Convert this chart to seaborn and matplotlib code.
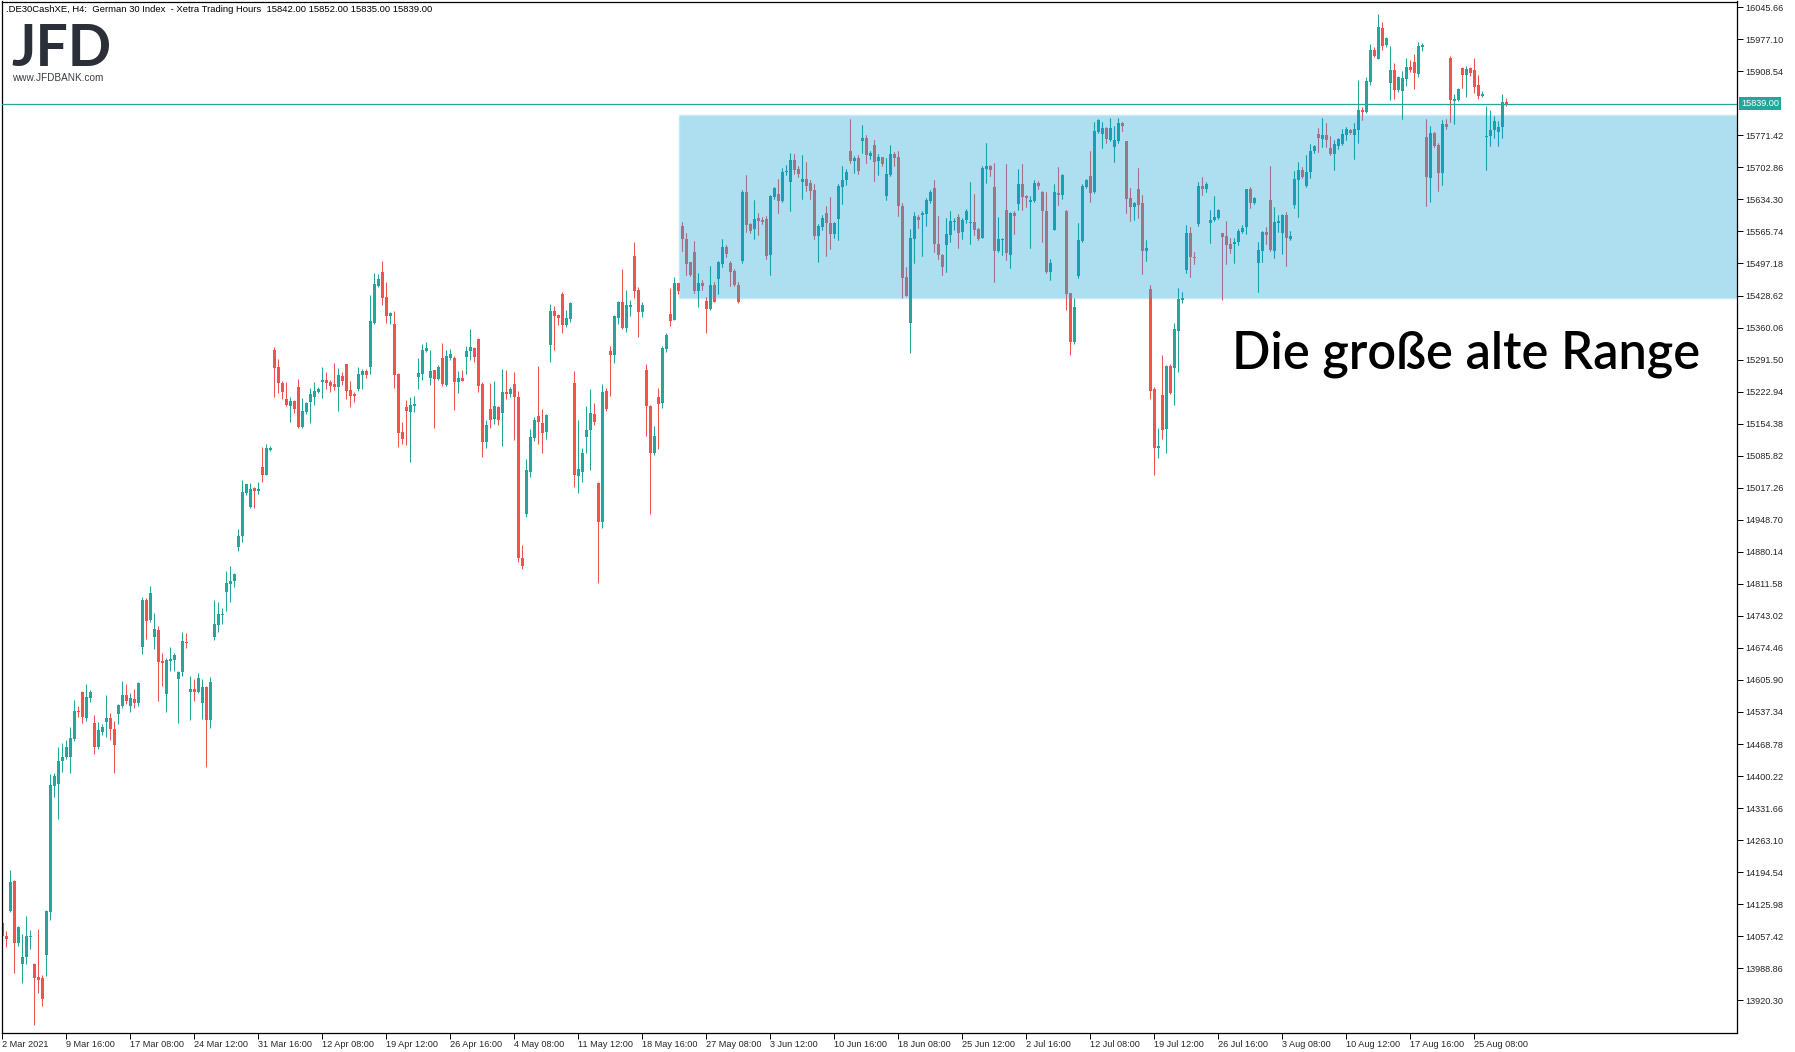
import numpy as np
import pandas as pd
import matplotlib
matplotlib.use("Agg")
import matplotlib.pyplot as plt
import matplotlib.transforms as mtransforms
from matplotlib.patches import Rectangle
import seaborn as sns

# DE30 H4 candles (Xetra hours), 2 Mar 2021 - 27 Aug 2021
opens = [
    14085, 14058, 14112, 14176, 14044, 13997, 14012, 14056, 13998, 13970,
    13968, 14018, 14110, 14380, 14384, 14432, 14442, 14442, 14480, 14540,
    14580, 14525, 14568, 14514, 14463, 14495, 14516, 14524, 14501, 14534,
    14550, 14574, 14551, 14565, 14557, 14677, 14777, 14735, 14698, 14713,
    14647, 14576, 14647, 14649, 14609, 14624, 14687, 14581, 14587, 14581,
    14557, 14591, 14521, 14698, 14724, 14745, 14794, 14811, 14818, 14890,
    14914, 15006, 14976, 15017, 15011, 15062, 15045, 15098, 15312, 15276,
    15241, 15207, 15192, 15203, 15233, 15147, 15179, 15201, 15211, 15222,
    15244, 15248, 15244, 15239, 15233, 15256, 15282, 15226, 15218, 15229,
    15259, 15267, 15276, 15370, 15449, 15479, 15425, 15385, 15368, 15261,
    15137, 15190, 15179, 15193, 15254, 15261, 15310, 15252, 15269, 15250,
    15295, 15237, 15295, 15295, 15244, 15252, 15297, 15310, 15316, 15336,
    15239, 15115, 15186, 15164, 15190, 15177, 15222, 15218, 15239, 15211,
    14867, 14961, 15051, 15124, 15171, 15156, 15137, 15323, 15396, 15387,
    15432, 15365, 15378, 15241, 15042, 15052, 15126, 15141, 15175, 15027,
    14944, 15224, 15310, 15301, 15380, 15415, 15359, 15405, 15513, 15440,
    15393, 15269, 15192, 15092, 15211, 15199, 15314, 15389, 15376, 15455,
    15577, 15550, 15500, 15522, 15438, 15455, 15417, 15400, 15451, 15464,
    15496, 15532, 15498, 15481, 15451, 15502, 15650, 15582, 15571, 15594,
    15590, 15592, 15515, 15639, 15646, 15631, 15692, 15671, 15719, 15699,
    15671, 15678, 15669, 15654, 15556, 15575, 15605, 15584, 15560, 15592,
    15661, 15676, 15738, 15716, 15723, 15759, 15766, 15728, 15751, 15716,
    15725, 15642, 15686, 15731, 15725, 15620, 15468, 15370, 15550, 15597,
    15600, 15603, 15631, 15659, 15539, 15515, 15537, 15558, 15585, 15597,
    15565, 15590, 15584, 15586, 15571, 15552, 15699, 15706, 15661, 15524,
    15547, 15612, 15515, 15605, 15624, 15667, 15642, 15629, 15631, 15669,
    15650, 15610, 15479, 15569, 15648, 15644, 15610, 15434, 15329, 15470,
    15545, 15661, 15684, 15650, 15779, 15774, 15787, 15761, 15746, 15759,
    15798, 15759, 15637, 15618, 15656, 15627, 15524, 15442, 15228, 15102,
    15216, 15143, 15278, 15274, 15353, 15419, 15483, 15562, 15511, 15582,
    15663, 15656, 15584, 15590, 15594, 15562, 15556, 15539, 15539, 15543,
    15565, 15575, 15656, 15627, 15498, 15524, 15565, 15633, 15524, 15584,
    15562, 15601, 15550, 15622, 15676, 15697, 15663, 15693, 15738, 15774,
    15764, 15772, 15744, 15731, 15749, 15753, 15772, 15783, 15772, 15783,
    15826, 15821, 15886, 15954, 15935, 16001, 15965, 15883, 15911, 15868,
    15866, 15892, 15918, 15928, 15903, 15960, 15768, 15680, 15776, 15751,
    15691, 15796, 15937, 15844, 15847, 15916, 15901, 15916, 15911, 15879,
    15856, 15768, 15770, 15783, 15779, 15789, 15842,
]
highs = [
    14089, 14069, 14199, 14178, 14079, 14062, 14101, 14071, 14000, 14073,
    13975, 14114, 14405, 14407, 14462, 14471, 14477, 14505, 14563, 14550,
    14582, 14597, 14584, 14531, 14516, 14512, 14574, 14535, 14519, 14554,
    14604, 14597, 14578, 14587, 14601, 14784, 14782, 14807, 14749, 14721,
    14664, 14653, 14676, 14664, 14626, 14709, 14706, 14614, 14608, 14621,
    14608, 14593, 14612, 14777, 14773, 14760, 14839, 14850, 14834, 14929,
    15034, 15026, 15027, 15018, 15030, 15104, 15111, 15107, 15318, 15293,
    15246, 15244, 15211, 15205, 15250, 15209, 15201, 15231, 15244, 15233,
    15276, 15265, 15248, 15284, 15274, 15265, 15283, 15246, 15222, 15276,
    15271, 15271, 15430, 15477, 15475, 15502, 15457, 15393, 15395, 15262,
    15158, 15205, 15211, 15214, 15295, 15325, 15329, 15312, 15270, 15280,
    15327, 15312, 15314, 15299, 15267, 15270, 15321, 15357, 15318, 15337,
    15244, 15162, 15241, 15246, 15192, 15271, 15270, 15233, 15265, 15224,
    14895, 15079, 15143, 15169, 15278, 15186, 15174, 15410, 15406, 15389,
    15436, 15398, 15415, 15267, 15162, 15102, 15192, 15229, 15199, 15030,
    15239, 15231, 15321, 15386, 15417, 15485, 15440, 15419, 15543, 15447,
    15415, 15282, 15194, 15149, 15231, 15321, 15348, 15445, 15468, 15456,
    15586, 15562, 15501, 15545, 15477, 15462, 15425, 15492, 15457, 15502,
    15550, 15537, 15502, 15485, 15457, 15654, 15686, 15584, 15633, 15605,
    15597, 15599, 15643, 15660, 15678, 15701, 15708, 15734, 15731, 15706,
    15729, 15714, 15676, 15667, 15582, 15601, 15620, 15639, 15586, 15667,
    15706, 15699, 15806, 15727, 15729, 15793, 15772, 15738, 15761, 15731,
    15726, 15723, 15751, 15736, 15738, 15627, 15490, 15571, 15607, 15601,
    15610, 15637, 15654, 15676, 15599, 15517, 15594, 15610, 15594, 15603,
    15594, 15614, 15671, 15646, 15573, 15706, 15755, 15707, 15712, 15597,
    15552, 15710, 15607, 15610, 15699, 15710, 15644, 15642, 15676, 15674,
    15652, 15650, 15507, 15667, 15704, 15689, 15611, 15435, 15423, 15584,
    15667, 15678, 15738, 15800, 15806, 15800, 15789, 15808, 15791, 15808,
    15800, 15760, 15659, 15629, 15701, 15644, 15547, 15451, 15233, 15145,
    15301, 15280, 15282, 15370, 15445, 15436, 15580, 15575, 15522, 15672,
    15682, 15672, 15612, 15642, 15613, 15563, 15588, 15552, 15552, 15571,
    15580, 15657, 15661, 15639, 15543, 15567, 15575, 15706, 15618, 15601,
    15602, 15607, 15567, 15695, 15714, 15704, 15729, 15753, 15751, 15787,
    15808, 15798, 15770, 15761, 15766, 15785, 15789, 15785, 15798, 15890,
    15832, 15896, 15967, 15960, 16031, 16014, 15981, 15963, 15926, 15898,
    15909, 15937, 15933, 15945, 15971, 15969, 15806, 15791, 15779, 15755,
    15804, 15806, 15941, 15860, 15873, 15918, 15920, 15918, 15937, 15901,
    15866, 15834, 15826, 15813, 15802, 15860, 15852,
]
lows = [
    14055, 14035, 14110, 13979, 14037, 13958, 13999, 14031, 13868, 13937,
    13909, 13973, 14093, 14356, 14309, 14410, 14437, 14407, 14476, 14527,
    14514, 14519, 14559, 14448, 14459, 14489, 14484, 14478, 14407, 14512,
    14546, 14555, 14538, 14546, 14551, 14662, 14694, 14731, 14673, 14561,
    14594, 14538, 14626, 14626, 14514, 14615, 14675, 14521, 14561, 14579,
    14523, 14420, 14504, 14692, 14709, 14726, 14753, 14773, 14805, 14882,
    14901, 15002, 14974, 14974, 15004, 15030, 15044, 15096, 15211, 15221,
    15207, 15192, 15158, 15177, 15145, 15145, 15175, 15156, 15194, 15220,
    15209, 15229, 15222, 15226, 15181, 15237, 15207, 15190, 15201, 15224,
    15229, 15252, 15261, 15368, 15447, 15408, 15370, 15368, 15231, 15104,
    15111, 15109, 15072, 15179, 15229, 15248, 15308, 15237, 15145, 15248,
    15235, 15236, 15291, 15184, 15220, 15245, 15261, 15291, 15286, 15222,
    15083, 15102, 15145, 15154, 15152, 15107, 15207, 15211, 15119, 14858,
    14843, 14955, 15040, 15117, 15111, 15092, 15121, 15286, 15312, 15365,
    15348, 15361, 15372, 15019, 15006, 15030, 15091, 15055, 15152, 14813,
    14931, 15181, 15214, 15284, 15368, 15357, 15350, 15385, 15423, 15340,
    15383, 15128, 14961, 15087, 15100, 15188, 15308, 15363, 15376, 15432,
    15524, 15473, 15470, 15434, 15404, 15440, 15348, 15398, 15414, 15432,
    15490, 15511, 15449, 15449, 15413, 15498, 15564, 15562, 15550, 15558,
    15582, 15507, 15473, 15635, 15605, 15629, 15686, 15610, 15689, 15682,
    15635, 15652, 15635, 15550, 15500, 15569, 15513, 15528, 15552, 15547,
    15624, 15665, 15712, 15691, 15689, 15734, 15712, 15721, 15674, 15686,
    15706, 15633, 15685, 15706, 15599, 15423, 15427, 15306, 15498, 15573,
    15513, 15577, 15627, 15522, 15507, 15473, 15479, 15543, 15569, 15530,
    15550, 15584, 15539, 15558, 15547, 15551, 15669, 15684, 15457, 15522,
    15515, 15505, 15488, 15560, 15612, 15612, 15618, 15530, 15629, 15656,
    15543, 15477, 15462, 15568, 15622, 15635, 15398, 15301, 15325, 15466,
    15543, 15659, 15629, 15649, 15776, 15744, 15755, 15759, 15714, 15755,
    15781, 15605, 15588, 15590, 15594, 15475, 15502, 15207, 15045, 15081,
    15121, 15092, 15218, 15194, 15265, 15413, 15477, 15468, 15496, 15577,
    15644, 15650, 15541, 15588, 15592, 15419, 15496, 15520, 15498, 15537,
    15563, 15560, 15616, 15624, 15436, 15500, 15539, 15524, 15509, 15565,
    15517, 15492, 15547, 15616, 15597, 15680, 15661, 15680, 15734, 15736,
    15746, 15746, 15730, 15697, 15742, 15751, 15761, 15774, 15721, 15755,
    15804, 15820, 15879, 15939, 15934, 15954, 15960, 15847, 15849, 15864,
    15806, 15877, 15907, 15871, 15896, 15952, 15620, 15629, 15746, 15652,
    15665, 15785, 15800, 15796, 15845, 15873, 15853, 15898, 15862, 15849,
    15853, 15697, 15749, 15766, 15749, 15766, 15835,
]
closes = [
    14057, 14051, 14174, 14044, 14077, 14013, 14058, 14059, 13969, 13964,
    13924, 14112, 14381, 14400, 14432, 14441, 14462, 14482, 14540, 14537,
    14527, 14569, 14580, 14463, 14499, 14505, 14525, 14502, 14467, 14552,
    14574, 14561, 14568, 14557, 14599, 14777, 14733, 14792, 14715, 14645,
    14643, 14649, 14651, 14659, 14624, 14689, 14684, 14587, 14581, 14610,
    14591, 14521, 14601, 14726, 14747, 14748, 14813, 14818, 14833, 14914,
    15008, 15025, 15015, 15010, 15014, 15045, 15102, 15102, 15274, 15242,
    15223, 15194, 15203, 15186, 15147, 15181, 15199, 15218, 15224, 15229,
    15248, 15241, 15235, 15233, 15259, 15246, 15224, 15214, 15214, 15261,
    15267, 15259, 15374, 15453, 15464, 15423, 15385, 15391, 15259, 15134,
    15121, 15181, 15194, 15196, 15263, 15312, 15316, 15267, 15250, 15276,
    15239, 15299, 15303, 15244, 15252, 15246, 15310, 15318, 15297, 15235,
    15115, 15152, 15162, 15192, 15162, 15222, 15218, 15229, 15211, 14867,
    14850, 15055, 15126, 15162, 15158, 15134, 15173, 15396, 15385, 15380,
    15365, 15380, 15413, 15045, 15057, 15092, 15141, 15177, 15158, 14944,
    15222, 15186, 15301, 15385, 15415, 15359, 15408, 15409, 15438, 15393,
    15408, 15192, 15092, 15128, 15196, 15316, 15344, 15374, 15455, 15438,
    15550, 15496, 15473, 15438, 15455, 15449, 15400, 15451, 15415, 15500,
    15532, 15517, 15479, 15451, 15415, 15650, 15580, 15567, 15592, 15588,
    15586, 15513, 15642, 15659, 15631, 15693, 15696, 15719, 15697, 15689,
    15678, 15663, 15652, 15556, 15577, 15594, 15584, 15560, 15584, 15663,
    15676, 15693, 15716, 15723, 15695, 15766, 15729, 15733, 15714, 15725,
    15710, 15689, 15731, 15723, 15620, 15466, 15428, 15552, 15599, 15590,
    15606, 15633, 15650, 15539, 15515, 15490, 15560, 15588, 15589, 15562,
    15590, 15610, 15587, 15569, 15550, 15701, 15706, 15697, 15524, 15550,
    15550, 15520, 15605, 15599, 15667, 15639, 15637, 15633, 15669, 15663,
    15610, 15479, 15498, 15650, 15644, 15686, 15432, 15329, 15404, 15547,
    15663, 15676, 15648, 15781, 15804, 15787, 15764, 15787, 15761, 15798,
    15791, 15635, 15618, 15627, 15622, 15524, 15530, 15224, 15102, 15107,
    15141, 15278, 15220, 15357, 15421, 15423, 15562, 15511, 15509, 15663,
    15656, 15667, 15590, 15597, 15612, 15554, 15537, 15528, 15543, 15567,
    15573, 15656, 15627, 15637, 15526, 15565, 15558, 15526, 15586, 15588,
    15601, 15552, 15556, 15678, 15697, 15682, 15693, 15738, 15749, 15766,
    15772, 15761, 15731, 15753, 15764, 15774, 15785, 15776, 15785, 15826,
    15821, 15888, 15954, 15941, 16003, 15963, 15980, 15911, 15868, 15896,
    15894, 15918, 15911, 15905, 15963, 15965, 15682, 15776, 15749, 15691,
    15796, 15789, 15847, 15849, 15871, 15901, 15913, 15905, 15875, 15856,
    15860, 15771, 15783, 15802, 15789, 15843, 15839,
]

# time axis: one label every 16 bars
tick_labels = [
    "2 Mar 2021", "9 Mar 16:00", "17 Mar 08:00", "24 Mar 12:00", "31 Mar 16:00",
    "12 Apr 08:00", "19 Apr 12:00", "26 Apr 16:00", "4 May 08:00", "11 May 12:00",
    "18 May 16:00", "27 May 08:00", "3 Jun 12:00", "10 Jun 16:00", "18 Jun 08:00",
    "25 Jun 12:00", "2 Jul 16:00", "12 Jul 08:00", "19 Jul 12:00", "26 Jul 16:00",
    "3 Aug 08:00", "10 Aug 12:00", "17 Aug 16:00", "25 Aug 08:00",
]
price_ticks = [
    13920.30, 13988.86, 14057.42, 14125.98, 14194.54, 14263.10, 14331.66, 14400.22,
    14468.78, 14537.34, 14605.90, 14674.46, 14743.02, 14811.58, 14880.14, 14948.70,
    15017.26, 15085.82, 15154.38, 15222.94, 15291.50, 15360.06, 15428.62, 15497.18,
    15565.74, 15634.30, 15702.86, 15771.42, 15908.54, 15977.10, 16045.66,
]

header = (".DE30CashXE, H4:  German 30 Index  - Xetra Trading Hours  "
          "15842.00 15852.00 15835.00 15839.00")
last_price = 15839.00
range_low, range_high = 15422.6, 15815.0
range_start = 169.25

sns.set_theme(style="white")
plt.rcParams["font.family"] = ["Liberation Sans", "DejaVu Sans"]

up_col, down_col = "#26A69A", "#EF5350"
up_in_box, down_in_box = "#17A0B5", "#A27387"
box_col = "#ADDFF0"

df = pd.DataFrame({"open": opens, "high": highs, "low": lows, "close": closes})
df["x"] = np.arange(len(df))
df["up"] = df["close"] >= df["open"]
df["body_lo"] = df[["open", "close"]].min(axis=1)
df["body_h"] = (df["close"] - df["open"]).abs().clip(lower=2.5)

W, H = 1795, 1052
fig = plt.figure(figsize=(W / 100, H / 100), dpi=100, facecolor="white")
ax = fig.add_axes([2 / W, 19 / H, 1735 / W, 1031.5 / H])

box = Rectangle((range_start, range_low), 400, range_high - range_low,
                fc=box_col, ec="#C8E9F4", lw=1, zorder=1)
ax.add_patch(box)


def draw_candles(c_up, c_dn, z, clip=None):
    cols = np.where(df["up"], c_up, c_dn)
    wicks = ax.vlines(df["x"], df["low"], df["high"], colors=cols, lw=0.75, zorder=z)
    bodies = ax.bar(df["x"], df["body_h"], bottom=df["body_lo"], width=0.75,
                    color=cols, lw=0, zorder=z)
    if clip is not None:
        wicks.set_clip_path(clip)
        for b in bodies:
            b.set_clip_path(clip)


draw_candles(up_col, down_col, 2)
draw_candles(up_in_box, down_in_box, 3, clip=box)

ax.axhline(last_price, color=up_col, lw=0.9, zorder=4)

ax.set_xlim(0, 433.75)
ax.set_ylim(13850.4, 16057.8)
ax.set_xticks(np.arange(len(tick_labels)) * 16)
ax.set_xticklabels(tick_labels, ha="left")
ax.yaxis.tick_right()
ax.set_yticks(price_ticks)
ax.set_yticklabels([f"{v:.2f}" for v in price_ticks])
ax.tick_params(axis="x", bottom=True, direction="out", length=4, width=0.7,
               color="black", labelsize=6.6, pad=1)
ax.tick_params(axis="y", right=True, left=False, direction="out", length=4,
               width=0.7, color="black", labelsize=6.6, pad=2)
ax.grid(False)
for s in ax.spines.values():
    s.set_color("black")
    s.set_linewidth(0.9)

# current price tag on the scale
trans = mtransforms.blended_transform_factory(ax.transAxes, ax.transData)
ax.text(1.0 + 4 / 1735, last_price, f"{last_price:.2f}", transform=trans,
        ha="left", va="center", color="white", fontsize=6.6, zorder=5,
        bbox=dict(boxstyle="square,pad=0.2", fc=up_col, ec="none"))

fig.text(6 / W, 1 - 9 / H, header, ha="left", va="center", fontsize=6.8, color="black")
fig.text(11 / W, 1 - 66 / H, "JFD", ha="left", va="baseline", fontsize=41,
         family=["Lato", "DejaVu Sans"], weight="bold", color="#2B3038")
fig.text(12 / W, 1 - 81 / H, "www.JFDBANK.com", ha="left", va="baseline",
         fontsize=7.2, color="#3A3D42")
fig.text(1232 / W, 1 - 369 / H, "Die große alte Range", ha="left", va="baseline",
         fontsize=36.4, family=["Lato", "DejaVu Sans"], weight="semibold", color="black")

fig.savefig("out.png", dpi=100, facecolor="white")
